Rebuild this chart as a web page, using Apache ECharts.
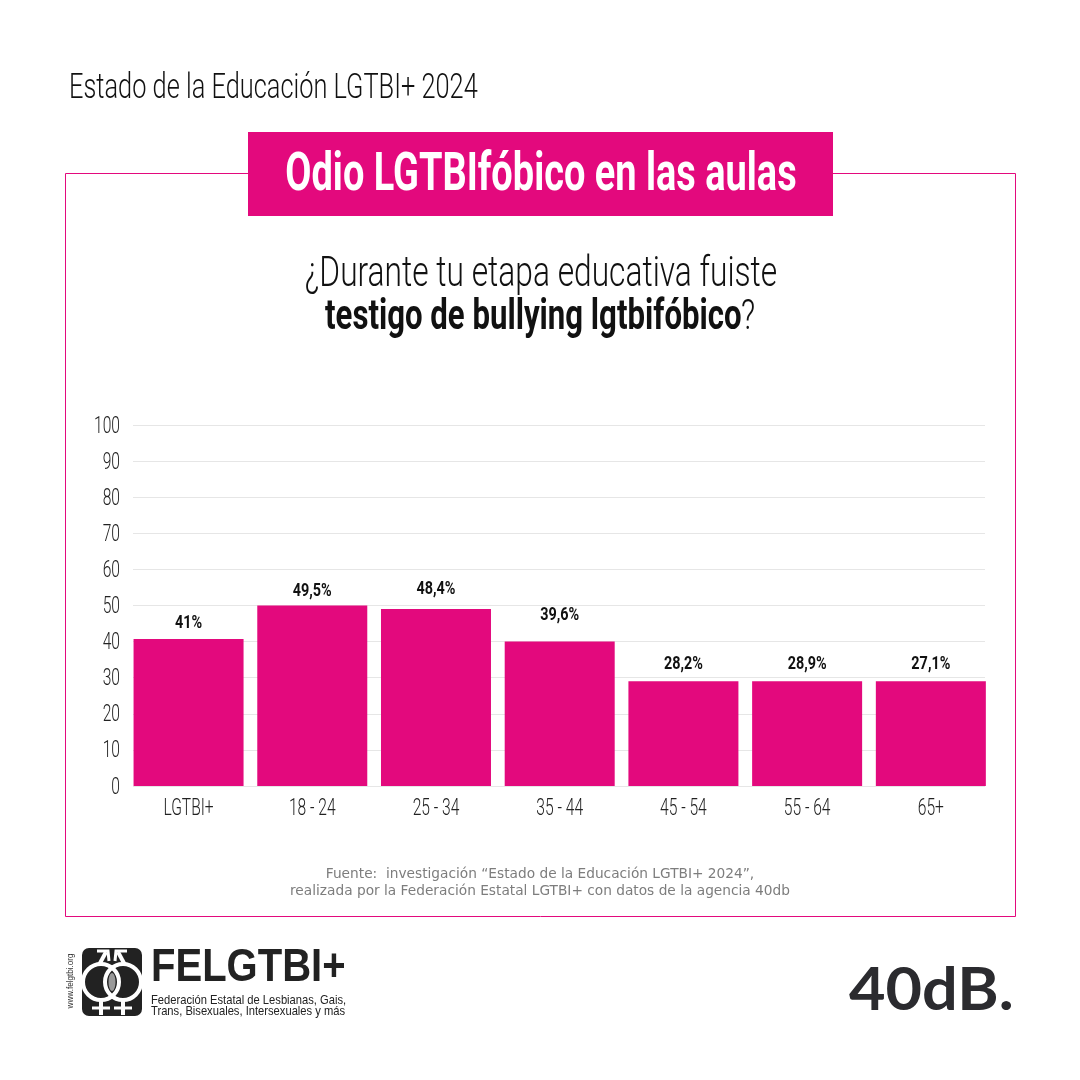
<!DOCTYPE html>
<html>
<head>
<meta charset="utf-8">
<style>html,body{margin:0;background:#fff}#main{width:1080px;height:1080px}</style>
<script src="https://cdn.jsdelivr.net/npm/echarts@6/dist/echarts.min.js"></script>
</head>
<body>
<div id="main"></div>
<script>
// datos
const categorias = ['LGTBI+', '18 - 24', '25 - 34', '35 - 44', '45 - 54', '55 - 64', '65+'];
const alturas = [40.7, 50, 49, 40, 29, 29, 29];
const etiquetas = ['41%', '49,5%', '48,4%', '39,6%', '28,2%', '28,9%', '27,1%'];
const ticks = [0, 10, 20, 30, 40, 50, 60, 70, 80, 90, 100];

const ROSA = '#e3097d';
const FUENTE = 'Roboto, "Liberation Sans", sans-serif';
// separacion de cada etiqueta sobre su barra
const separacion = [7, 5, 11, 17, 8, 8, 8];

function txt(text, x, y, size, opts) {
    opts = opts || {};
    return {
        type: 'text', x: x, y: y, scaleX: opts.sx || 1, rotation: opts.rot || 0, silent: true,
        style: {
            text: text, fontSize: size, fontFamily: opts.font || FUENTE, fontWeight: opts.weight || 300,
            fill: opts.fill || '#111', align: opts.align || 'left', verticalAlign: 'middle'
        }
    };
}

function linea(points, width) {
    return { type: 'polyline', shape: { points: points }, style: { fill: 'none', stroke: '#fff', lineWidth: width }, silent: true };
}

const graficos = [
    { type: 'rect', shape: { x: 65.5, y: 173.5, width: 950, height: 743 }, style: { fill: 'none', stroke: ROSA, lineWidth: 1 }, silent: true },
    { type: 'rect', shape: { x: 248, y: 132, width: 585, height: 84 }, style: { fill: ROSA }, silent: true },
    txt('Estado de la Educación LGTBI+ 2024', 69, 89, 35, { sx: 0.725 }),
    txt('Odio LGTBIfóbico en las aulas', 541, 177, 53, { align: 'center', weight: 'bold', fill: '#fff', sx: 0.716 }),
    txt('¿Durante tu etapa educativa fuiste', 541, 275, 42, { align: 'center', sx: 0.755 }),
    txt('testigo de bullying lgtbifóbico', 325, 318, 42, { weight: 'bold', sx: 0.742 }),
    txt('?', 741, 318, 42, { sx: 0.74 }),
    txt('Fuente:  investigación “Estado de la Educación LGTBI+ 2024”,', 540, 874, 14, { align: 'center', font: '"DejaVu Sans"', weight: 'normal', fill: '#7d7d7d', sx: 0.98 }),
    txt('realizada por la Federación Estatal LGTBI+ con datos de la agencia 40db', 540, 891, 14, { align: 'center', font: '"DejaVu Sans"', weight: 'normal', fill: '#7d7d7d', sx: 0.98 }),

    // logo FELGTBI+
    txt('www.felgtbi.org', 71, 981, 9, { rot: Math.PI / 2, align: 'center', font: '"Liberation Sans"', weight: 'normal', fill: '#333', sx: 0.9 }),
    { type: 'rect', shape: { x: 82, y: 948, width: 60, height: 68, r: 7 }, style: { fill: '#222' }, silent: true },
    { type: 'circle', shape: { cx: 101, cy: 982, r: 18 }, style: { fill: '#222', stroke: '#fff', lineWidth: 4 }, silent: true },
    { type: 'circle', shape: { cx: 123, cy: 982, r: 18 }, style: { fill: 'none', stroke: '#fff', lineWidth: 4 }, silent: true },
    { type: 'ellipse', shape: { cx: 112, cy: 982, rx: 3.5, ry: 9 }, style: { fill: '#999' }, silent: true },
    linea([[99, 965], [106, 952]], 4),
    linea([[97, 951], [108, 951], [109, 961]], 3),
    linea([[125, 965], [118, 952]], 4),
    linea([[127, 951], [116, 951], [115, 961]], 3),
    linea([[101, 1001], [101, 1015]], 4),
    linea([[123, 1001], [123, 1015]], 4),
    linea([[92, 1008], [110, 1008]], 3),
    linea([[114, 1008], [132, 1008]], 3),
    txt('FELGTBI+', 151, 968, 46, { weight: 'bold', font: '"Liberation Sans"', fill: '#222', sx: 0.87 }),
    txt('Federación Estatal de Lesbianas, Gais,', 151, 1000, 13, { fill: '#222', font: '"Liberation Sans"', weight: 'normal', sx: 0.86 }),
    txt('Trans, Bisexuales, Intersexuales y más', 151, 1011, 13, { fill: '#222', font: '"Liberation Sans"', weight: 'normal', sx: 0.86 }),

    // logo 40dB.
    txt('40dB.', 849, 991, 60, { weight: 'bold', font: 'Lato', fill: '#2b2b2f', sx: 1.05 })
];

const chart = echarts.init(document.getElementById('main'), null, { renderer: 'canvas' });

const option = {
    animation: false,
    backgroundColor: '#fff',
    graphic: graficos,
    // grid 0 lleva las lineas y el eje Y, grid 1 las barras (sobresalen un poco de las lineas)
    grid: [
        { left: 133, width: 852, top: 425, height: 361 },
        { left: 126.7, width: 866, top: 425, height: 361 }
    ],
    xAxis: [
        { type: 'category', gridIndex: 0, data: categorias, show: false },
        {
            type: 'category', gridIndex: 1, data: categorias,
            axisLine: { show: false }, axisTick: { show: false },
            axisLabel: { color: '#222', fontSize: 24, fontWeight: 300, fontFamily: FUENTE, margin: 11 }
        }
    ],
    yAxis: [
        {
            type: 'value', gridIndex: 0, min: 0, max: 100, interval: 10,
            axisLine: { show: false }, axisTick: { show: false },
            axisLabel: { color: '#222', fontSize: 24, fontWeight: 300, fontFamily: FUENTE, margin: 13, formatter: v => ticks.includes(v) ? String(v) : '' },
            splitLine: { lineStyle: { color: '#e6e6e6', width: 1 } }
        },
        { type: 'value', gridIndex: 1, min: 0, max: 100, interval: 10, show: false, splitLine: { show: false } }
    ],
    series: [{
        type: 'bar',
        xAxisIndex: 1,
        yAxisIndex: 1,
        barWidth: 110,
        itemStyle: { color: ROSA },
        data: alturas.map((v, i) => ({
            value: v,
            label: {
                show: true, position: 'top', distance: separacion[i],
                formatter: etiquetas[i], color: '#111', fontSize: 18, fontWeight: 'bold', fontFamily: FUENTE
            }
        }))
    }]
};

chart.setOption(option);

// no hay fuente condensada instalada: se estrechan los textos de los ejes y de las barras
const estrechos = categorias.concat(ticks.map(String));
chart.getZr().storage.getRoots().forEach(root => {
    root.traverse(el => {
        if (el.type === 'text' && el.style && estrechos.includes(el.style.text)) {
            el.scaleX = 0.65;
            if (ticks.map(String).includes(el.style.text)) el.y += 1.5;
            el.markRedraw();
        }
        const rotulo = el.getTextContent && el.getTextContent();
        if (rotulo && etiquetas.includes(rotulo.style.text)) {
            rotulo.scaleX = 0.8;
            rotulo.markRedraw();
            el.markRedraw();
        }
    });
});
chart.getZr().refresh();
</script>
</body>
</html>
